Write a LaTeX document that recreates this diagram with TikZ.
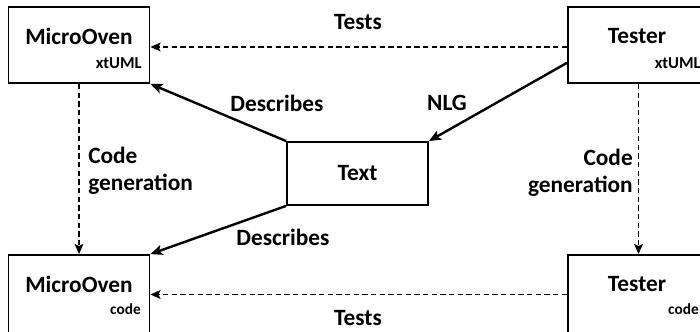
\documentclass[tikz,border=0pt]{standalone}
\usepackage{fontspec}
\setmainfont{Carlito}
\usepackage{tikz}
\usetikzlibrary{
  arrows.meta,
  positioning,
  calc
}

\begin{document}
\begin{tikzpicture}[
        x=0.75pt, y=-0.75pt,
        box/.style={draw, line width=1.4pt, minimum width=105.75pt, minimum height=57pt, inner sep=0pt},
        title/.style={font=\bfseries\fontsize{17.5}{20}\selectfont, inner sep=0pt},
        sub/.style={font=\bfseries\fontsize{12.5}{14}\selectfont, inner sep=0pt, anchor=base east},
        lbl/.style={font=\bfseries\fontsize{17.5}{20}\selectfont, inner sep=0pt},
        solidarr/.style={line width=1.8pt, -{Stealth[length=9pt, width=7.5pt, inset=2pt]}},
        dasharr/.style={line width=1.3pt, dash pattern=on 4pt off 2.5pt, -{Stealth[length=7.5pt, width=6.5pt, inset=1.5pt]}}
    ]
        \clip (0,0) rectangle (700,332);
        \useasboundingbox (0,0) rectangle (700,332);

        % Modelle oben
        \node[box] (moModel) at (79,45) {};
        \node[title] (moModelT) at (79,36) {MicroOven};
        \node[sub] (moModelS) at (142,68) {xtUML};

        \node[box] (teModel) at (638.5,45) {};
        \node[title] (teModelT) at (637,36) {Tester};
        \node[sub] (teModelS) at (701,68) {xtUML};

        % Text in der Mitte
        \node[box, minimum height=47.25pt, font=\bfseries\fontsize{17.5}{20}\selectfont] (txt) at (357.5,173.5) {Text};

        % Code unten
        \node[box, minimum height=59.25pt] (moCode) at (79,294.5) {};
        \node[title] (moCodeT) at (79,284) {MicroOven};
        \node[sub, font=\bfseries\fontsize{11.5}{13}\selectfont] (moCodeS) at (141,314) {code};

        \node[box, minimum height=59.25pt] (teCode) at (638.5,294.5) {};
        \node[title] (teCodeT) at (637,284) {Tester};
        \node[sub, font=\bfseries\fontsize{11.5}{13}\selectfont] (teCodeS) at (699,314) {code};

        % Verbindungen
        \draw[dasharr] (teModel.west |- 0,47) -- (moModel.east |- 0,47);
        \draw[dasharr] (teCode.west) -- (moCode.east);
        \draw[dasharr] (moModel.south) -- (moCode.north);
        \draw[dasharr] (teModel.south) -- (teCode.north);
        \draw[solidarr] (txt.north west) -- (moModel.south east);
        \draw[solidarr] (teModel.194) -- (txt.north east);
        \draw[solidarr] (txt.south west) -- (moCode.north east);

        % Beschriftungen
        \node[lbl] (lTestsTop) at (358,22) {Tests};
        \node[lbl] (lTestsBot) at (358,318) {Tests};
        \node[lbl] (lDescTop) at (277,103) {Describes};
        \node[lbl] (lDescBot) at (283,237) {Describes};
        \node[lbl] (lNlg) at (447,103) {NLG};
        \node[lbl, align=left, anchor=west] (lGenL) at (88,171) {Code\\generation};
        \node[lbl, align=right, anchor=east] (lGenR) at (633,173) {Code\\generation};
    \end{tikzpicture}
\end{document}
